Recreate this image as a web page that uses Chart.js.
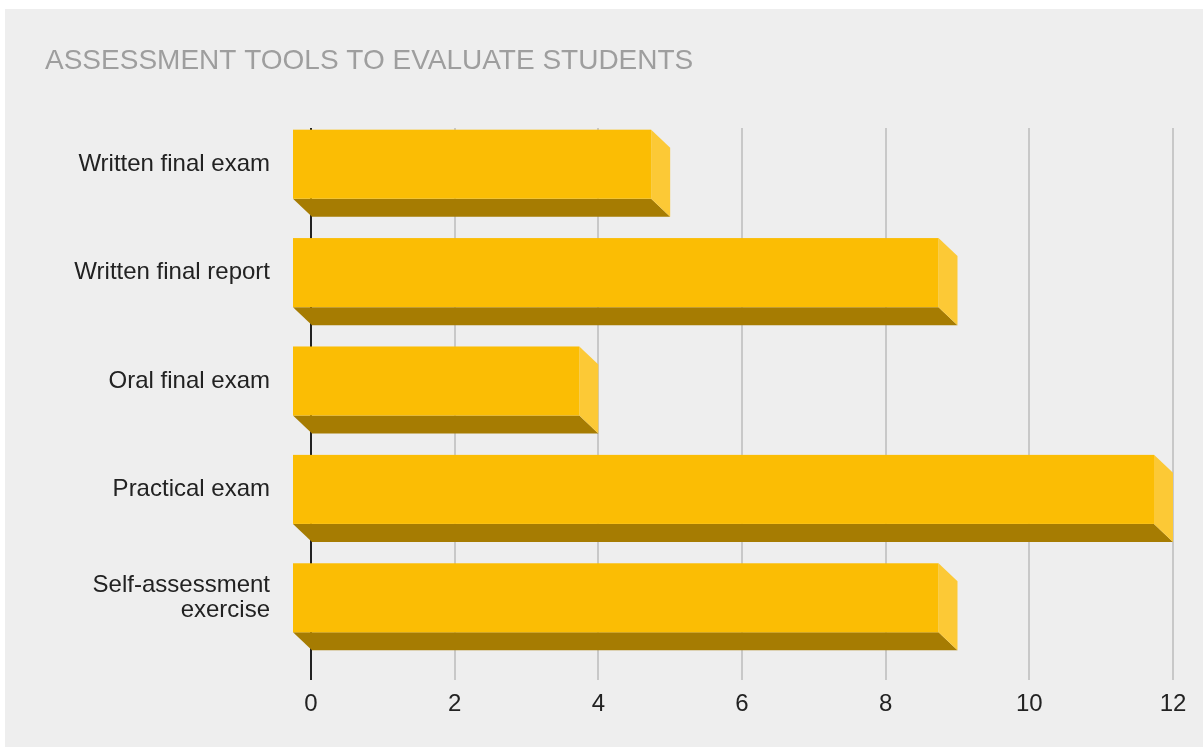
<!DOCTYPE html>
<html>
<head>
<meta charset="utf-8">
<script src="https://cdn.jsdelivr.net/npm/chart.js@4.4.1/dist/chart.umd.min.js"></script>
<style>
  html, body { margin: 0; padding: 0; background: #ffffff; }
  #wrap { position: absolute; left: 0; top: 0; width: 1203px; height: 747px; }
</style>
</head>
<body>
<div id="wrap"><canvas id="c" width="1203" height="747"></canvas></div>
<script>
const chartTitle = 'ASSESSMENT TOOLS TO EVALUATE STUDENTS';
const categories = [
  'Written final exam',
  'Written final report',
  'Oral final exam',
  'Practical exam',
  ['Self-assessment', 'exercise']
];
const values = [5, 9, 4, 12, 9];
const xTicks = [0, 2, 4, 6, 8, 10, 12];

const FRONT = '#FBBD04';
const BOTTOM = '#A67C02';
const SIDE = '#FCC936';
const DX = 19, DY = 18;

const bgPlugin = {
  id: 'bg',
  beforeDraw(chart) {
    const ctx = chart.ctx;
    ctx.save();
    ctx.fillStyle = '#ffffff';
    ctx.fillRect(0, 0, chart.width, chart.height);
    ctx.fillStyle = '#eeeeee';
    ctx.fillRect(5, 9, chart.width - 5, chart.height - 9);
    ctx.fillStyle = '#9e9e9e';
    ctx.font = '28px "Liberation Sans", Arial, sans-serif';
    ctx.textBaseline = 'alphabetic';
    ctx.textAlign = 'left';
    ctx.fillText(chartTitle, 45, 69);
    ctx.restore();
  }
};

const bar3d = {
  id: 'bar3d',
  afterDatasetsDraw(chart) {
    const ctx = chart.ctx;
    const meta = chart.getDatasetMeta(0);
    ctx.save();
    meta.data.forEach(el => {
      const p = el.getProps(['x', 'y', 'base', 'height'], true);
      const top = p.y - p.height / 2, bot = p.y + p.height / 2;
      const l = p.base, r = p.x;
      // bottom face
      ctx.fillStyle = BOTTOM;
      ctx.beginPath();
      ctx.moveTo(l - DX, bot - DY);
      ctx.lineTo(r - DX, bot - DY);
      ctx.lineTo(r, bot);
      ctx.lineTo(l, bot);
      ctx.closePath();
      ctx.fill();
      // side face
      ctx.fillStyle = SIDE;
      ctx.beginPath();
      ctx.moveTo(r - DX, top - DY);
      ctx.lineTo(r, top);
      ctx.lineTo(r, bot);
      ctx.lineTo(r - DX, bot - DY);
      ctx.closePath();
      ctx.fill();
      // front face
      ctx.fillStyle = FRONT;
      ctx.fillRect(l - DX, top - DY, r - l, p.height);
    });
    ctx.restore();
  }
};

new Chart(document.getElementById('c'), {
  type: 'bar',
  data: {
    labels: categories,
    datasets: [{
      data: values,
      backgroundColor: 'rgba(0,0,0,0)',
      borderWidth: 0,
      categoryPercentage: 1,
      barPercentage: 0.637
    }]
  },
  options: {
    indexAxis: 'y',
    responsive: false,
    animation: false,
    layout: { padding: { left: 0, right: 30, top: 128, bottom: 0 } },
    plugins: { legend: { display: false }, tooltip: { enabled: false }, title: { display: false } },
    scales: {
      x: {
        type: 'linear',
        min: 0, max: 12,
        afterBuildTicks(scale) { scale.ticks = xTicks.map(v => ({ value: v })); },
        afterFit(scale) { scale.height = 77; },
        grid: {
          color: c => (c.tick && c.tick.value === 0) ? '#222222' : '#c8c8c8',
          lineWidth: 2,
          tickLength: 10,
          drawTicks: true
        },
        border: { display: false },
        ticks: {
          color: '#222222',
          font: { family: '"Liberation Sans", Arial, sans-serif', size: 24 },
          padding: 10,
          maxRotation: 0
        }
      },
      y: {
        afterFit(scale) { scale.width = 311; },
        grid: { display: false },
        border: { display: false },
        ticks: {
          color: '#222222',
          font: { family: '"Liberation Sans", Arial, sans-serif', size: 24, lineHeight: 1.05 },
          padding: 33,
          labelOffset: -18
        }
      }
    }
  },
  plugins: [bgPlugin, bar3d]
});
</script>
</body>
</html>
